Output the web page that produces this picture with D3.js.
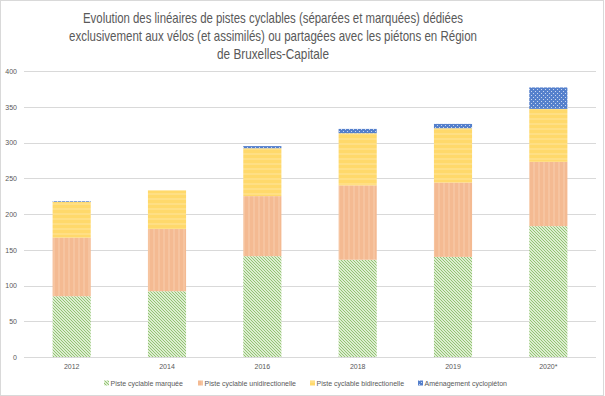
<!DOCTYPE html>
<html>
<head>
<meta charset="utf-8">
<script src="https://cdn.jsdelivr.net/npm/d3@7"></script>
<style>
  body { margin: 0; background: #fff; }
  svg { display: block; font-family: "Liberation Sans", Arial, sans-serif; }
  .grid-line { stroke: #d9d9d9; stroke-width: 1; }
</style>
</head>
<body>
<svg id="chart"></svg>
<script>
// données
const years = ["2012", "2014", "2016", "2018", "2019", "2020*"];
const marquee = [85, 92, 141, 136, 140, 183];
const unidir = [82, 87, 84, 104, 104, 90];
const bidir = [50, 54, 67, 73, 76, 74];
const cyclopieton = [1, 0, 3, 6, 6, 30];
const seriesNames = ["Piste cyclable marquée", "Piste cyclable unidirectionelle",
  "Piste cyclable bidirectionelle", "Aménagement cyclopiéton"];
const yTicks = [0, 50, 100, 150, 200, 250, 300, 350, 400];
const titleLines = [
  "Evolution des linéaires de pistes cyclables (séparées et marquées) dédiées",
  "exclusivement aux vélos (et assimilés) ou partagées avec les piétons en Région",
  "de Bruxelles-Capitale"
];
const titleWidths = [380, 408, 112];

const width = 605;
const height = 396;
const svg = d3.select("#chart").attr("width", width).attr("height", height);

// bordure du graphique
svg.append("rect")
  .attr("x", 0.5).attr("y", 0.5)
  .attr("width", width - 2).attr("height", height - 1)
  .attr("fill", "#fff").attr("stroke", "#d9d9d9");

// motifs de remplissage
const defs = svg.append("defs");
let p = defs.append("pattern").attr("id", "pGreen").attr("patternUnits", "userSpaceOnUse")
  .attr("width", 3).attr("height", 3);
p.append("rect").attr("width", 3).attr("height", 3).attr("fill", "#dcedd0");
p.append("path").attr("d", "M-1,-1 L4,4 M-1,2 L1,4 M2,-1 L4,1")
  .attr("stroke", "#8cc06a").attr("stroke-width", 0.9);

p = defs.append("pattern").attr("id", "pOrange").attr("patternUnits", "userSpaceOnUse")
  .attr("width", 5).attr("height", 4);
p.append("rect").attr("width", 5).attr("height", 4).attr("fill", "#f4ba92");
p.append("rect").attr("x", 3).attr("width", 2).attr("height", 4).attr("fill", "#f6c4a0");

p = defs.append("pattern").attr("id", "pYellow").attr("patternUnits", "userSpaceOnUse")
  .attr("width", 4).attr("height", 5);
p.append("rect").attr("width", 4).attr("height", 5).attr("fill", "#ffd96b");
p.append("rect").attr("y", 3).attr("width", 4).attr("height", 2).attr("fill", "#ffdf84");

p = defs.append("pattern").attr("id", "pBlue").attr("patternUnits", "userSpaceOnUse")
  .attr("width", 4).attr("height", 4);
p.append("rect").attr("width", 4).attr("height", 4).attr("fill", "#5580cc");
p.append("rect").attr("x", 1).attr("y", 1).attr("width", 1).attr("height", 1).attr("fill", "#c9d6f0");
p.append("rect").attr("x", 3).attr("y", 3).attr("width", 1).attr("height", 1).attr("fill", "#c9d6f0");

const fills = ["url(#pGreen)", "url(#pOrange)", "url(#pYellow)", "url(#pBlue)"];

// titre
svg.append("g").selectAll("text")
  .data(titleLines)
  .enter().append("text")
  .attr("x", 273)
  .attr("y", (d, i) => 23 + i * 17.8)
  .attr("text-anchor", "middle")
  .attr("fill", "#595959")
  .attr("textLength", (d, i) => titleWidths[i])
  .attr("lengthAdjust", "spacingAndGlyphs")
  .style("font-size", "14.5px")
  .text(d => d);

// échelles
const plotLeft = 24, plotRight = 596, plotTop = 71, plotBottom = 357;
const scaleX = d3.scaleBand().domain(years).range([plotLeft, plotRight])
  .paddingInner(0.6).paddingOuter(0.3);
const scaleY = d3.scaleLinear().domain([0, 400]).range([plotBottom, plotTop]);

// grille horizontale
svg.append("g").selectAll("line")
  .data(yTicks)
  .enter().append("line")
  .classed("grid-line", true)
  .attr("x1", plotLeft).attr("x2", plotRight)
  .attr("y1", d => Math.round(scaleY(d)) + 0.5)
  .attr("y2", d => Math.round(scaleY(d)) + 0.5);

// axe Y
const axisY = d3.axisLeft(scaleY).tickValues(yTicks).tickSize(0).tickPadding(7);
const gy = svg.append("g").attr("transform", `translate(${plotLeft},0)`).call(axisY);
gy.select(".domain").remove();
gy.selectAll("text").attr("fill", "#595959").style("font-size", "7px")
  .style("font-family", "Liberation Sans, Arial, sans-serif");

// axe X
const axisX = d3.axisBottom(scaleX).tickSize(0).tickPadding(7);
const gx = svg.append("g").attr("transform", `translate(0,${plotBottom})`).call(axisX);
gx.select(".domain").remove();
gx.selectAll("text").attr("fill", "#595959").style("font-size", "7px")
  .style("font-family", "Liberation Sans, Arial, sans-serif");

// empilement
const rows = years.map((y, i) => ({
  year: y, s0: marquee[i], s1: unidir[i], s2: bidir[i], s3: cyclopieton[i]
}));
const stack = d3.stack().keys(["s0", "s1", "s2", "s3"])(rows);

svg.append("g").selectAll("g")
  .data(stack)
  .enter().append("g")
  .attr("fill", (d, i) => fills[i])
  .selectAll("rect")
  .data(d => d)
  .enter().append("rect")
  .attr("x", d => scaleX(d.data.year))
  .attr("width", scaleX.bandwidth())
  .attr("y", d => scaleY(d[1]))
  .attr("height", d => scaleY(d[0]) - scaleY(d[1]));

// légende
const legendX = [104, 198, 310, 418];
const lg = svg.append("g").selectAll("g")
  .data(seriesNames)
  .enter().append("g")
  .attr("transform", (d, i) => `translate(${legendX[i]},383)`);
lg.append("rect")
  .attr("x", 0).attr("y", -2.5).attr("width", 5).attr("height", 5)
  .attr("fill", (d, i) => fills[i]);
lg.append("text")
  .attr("x", 6.5).attr("y", 2.5)
  .attr("fill", "#595959")
  .style("font-size", "7px")
  .text(d => d);
</script>
</body>
</html>
